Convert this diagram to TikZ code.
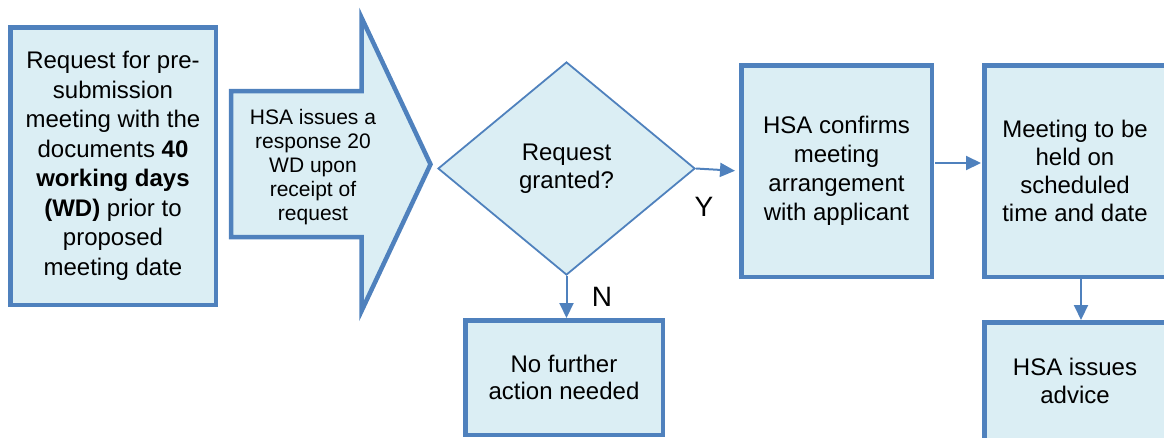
\documentclass[tikz,border=0pt]{standalone}
\usepackage{fontspec}
\setmainfont{Liberation Sans}
\usetikzlibrary{shapes.geometric,arrows.meta}
\definecolor{bfill}{HTML}{DBEEF4}
\definecolor{bline}{HTML}{4F81BD}
\tikzset{
  boxnode/.style={draw=bline, fill=bfill, line width=4.5pt, rectangle, inner sep=0pt, align=center,
    font=\fontsize{24}{28}\selectfont},
  decnode/.style={draw=bline, fill=bfill, line width=1.8pt, diamond, inner sep=0pt, align=center,
    font=\fontsize{24}{28}\selectfont},
  bigarrow/.style={draw=bline, fill=bfill, line width=4.5pt, line join=miter},
  conn/.style={draw=bline, line width=2pt, -{Triangle[length=15pt,width=14pt]}},
  lbl/.style={font=\fontsize{28}{30}\selectfont, inner sep=0pt}
}
\begin{document}
\begin{tikzpicture}[x=1pt,y=-1pt]
\useasboundingbox (0,0) rectangle (1164,437);
\clip (0,0) rectangle (1164,437);
% left box
\node[boxnode, minimum width=205.5pt, minimum height=277.5pt, font=\fontsize{24}{29.5}\selectfont] (req) at (113,166)
  {Request for pre-\\submission\\meeting with the\\documents \textbf{40}\\\textbf{working days}\\\textbf{(WD)} prior to\\proposed\\meeting date};
% block arrow
\path[bigarrow] (231,91) -- (361.5,91) -- (361.5,17.6) -- (430.5,164.3) -- (361.5,311) -- (361.5,237) -- (231,237) -- cycle;
\node[align=center, inner sep=0pt, font=\fontsize{21}{24.2}\selectfont] (resp) at (313,167)
  {HSA issues a\\response 20\\WD upon\\receipt of\\request};
% decision
\node[decnode, minimum width=257pt, minimum height=213pt] (dec) at (566.5,168.5) {Request\\granted?};
% boxes
\node[boxnode, minimum width=190.5pt, minimum height=211.5pt, font=\fontsize{24}{29}\selectfont] (conf) at (836.5,171)
  {HSA confirms\\meeting\\arrangement\\with applicant};
\node[boxnode, minimum width=181.5pt, minimum height=211.5pt] (meet) at (1075,171)
  {Meeting to be\\held on\\scheduled\\time and date};
\node[boxnode, minimum width=181.5pt, minimum height=117.5pt] (adv) at (1075,381)
  {HSA issues\\advice};
\node[boxnode, minimum width=197.5pt, minimum height=114.5pt, font=\fontsize{24}{27}\selectfont] (nof) at (564,377.5)
  {No further\\action needed};
% connectors
\draw[conn, shorten >=4pt] (dec.east) -- (conf.west);
\draw[conn] (dec.south) -- (dec.south |- nof.north);
\draw[conn, shorten <=1pt, shorten >=1pt] ([yshift=8pt]conf.east) -- ([yshift=8pt]meet.west);
\draw[conn] ([xshift=6pt]meet.south) -- ([xshift=6pt]adv.north);
% labels
\node[lbl] (ylbl) at (704,207) {Y};
\node[lbl] (nlbl) at (602,297) {N};
\end{tikzpicture}
\end{document}
